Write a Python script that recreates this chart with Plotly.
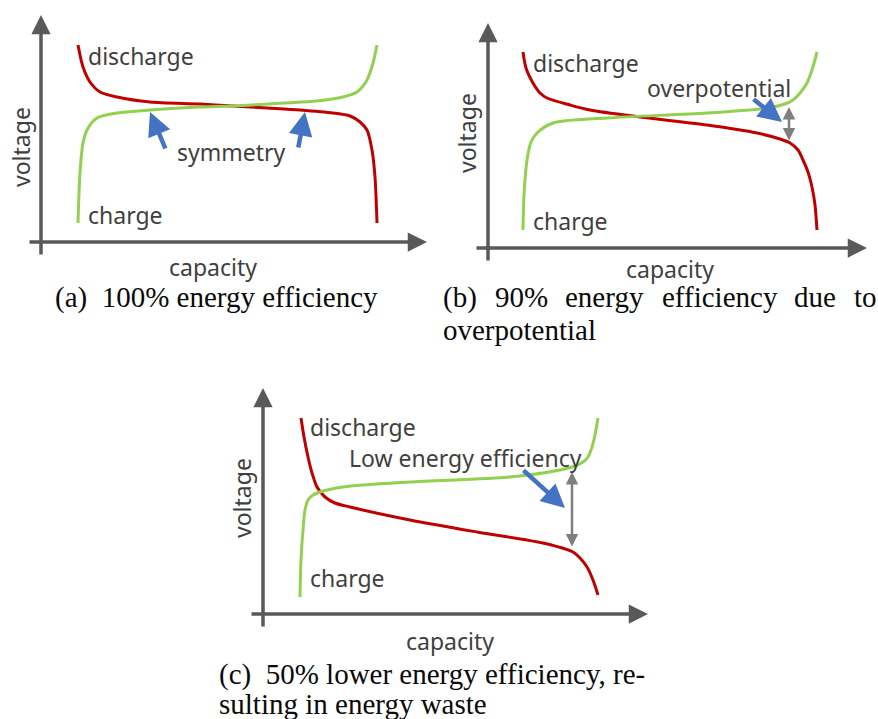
import plotly.graph_objects as go

W, H = 878, 719

# ---- curve data (capacity, voltage in arbitrary units) ----
# (a) ideal cell: charge and discharge mirror each other
a_dis_cap = [37, 42, 49, 59, 76, 109, 159, 192, 226, 259, 292, 309, 319, 326, 331, 334, 336]
a_dis_volt = [197, 175, 160, 150, 145, 140, 138, 136, 134, 132, 129, 126, 120, 112, 92, 65, 19]
a_chg_cap = [37, 39, 42, 46, 56, 76, 109, 159, 192, 242, 276, 302, 316, 326, 332, 336]
a_chg_volt = [19, 69, 99, 112, 124, 129, 132, 135, 136, 139, 141, 145, 150, 162, 179, 197]

# (b) overpotential opens a gap between the curves
b_dis_cap = [35, 38, 45, 52, 59, 82, 102, 152, 219, 269, 292, 302, 310, 315, 320, 324, 327, 329]
b_dis_volt = [196, 180, 165, 155, 150, 143, 138, 131, 123, 115, 109, 105, 98, 88, 76, 61, 43, 18]
b_chg_cap = [35, 36, 39, 43, 49, 65, 119, 219, 279, 297, 305, 312, 319, 324, 329]
b_chg_volt = [18, 53, 88, 106, 115, 125, 130, 135, 140, 144, 148, 155, 165, 178, 196]

# (c) large gap -> low energy efficiency
c_dis_cap = [38, 41, 45, 49, 54, 62, 72, 87, 147, 214, 280, 310, 317, 324, 330, 335]
c_dis_volt = [196, 177, 157, 141, 127, 117, 111, 107, 94, 82, 71, 62, 56, 47, 34, 19]
c_chg_cap = [37, 38, 40, 42, 45, 50, 57, 80, 147, 247, 297, 312, 320, 325, 329, 332, 335]
c_chg_volt = [17, 54, 84, 104, 114, 119, 122, 127, 132, 137, 144, 148, 152, 157, 167, 179, 196]

# gap markers: (capacity, voltage top, voltage bottom)
b_gap = (301, 141, 106)
c_gap = (309, 142, 66)

RED = "#C00000"
GREEN = "#92D050"
BLUE = "#4472C4"
GREY = "#7F7F7F"
AXIS = "#595959"
LABEL = "#3F3F3F"
CAPTION = "#0A0A0A"
SANS = "Noto Sans"
SERIF = "Liberation Serif, Times New Roman, serif"

# panel geometry: origin in pixels and axis extents in data units
panels = {
    "a": dict(origin=(41, 242), xr=(-14, 387), yr=(-15, 228)),
    "b": dict(origin=(488, 248), xr=(-14, 380), yr=(-15, 226)),
    "c": dict(origin=(263, 614), xr=(-14, 386), yr=(-15, 227)),
}


def px(x):
    return x / W


def py(y):
    return 1 - y / H


fig = go.Figure()
layout = {}
annotations = []

for i, (key, p) in enumerate(panels.items()):
    n = "" if i == 0 else str(i + 1)
    ox, oy = p["origin"]
    x0, x1 = p["xr"]
    y0, y1 = p["yr"]
    layout["xaxis" + n] = dict(domain=[px(ox + x0), px(ox + x1)], range=[x0, x1],
                               visible=False, fixedrange=True, anchor="y" + n)
    layout["yaxis" + n] = dict(domain=[py(oy - y0), py(oy - y1)], range=[y0, y1],
                               visible=False, fixedrange=True, anchor="x" + n)
    xref, yref = "x" + n, "y" + n
    # axis arrows
    annotations.append(dict(x=x1 - 1, y=0, ax=x0 + 1, ay=0, xref=xref, yref=yref,
                            axref=xref, ayref=yref, showarrow=True, arrowhead=2,
                            arrowsize=1.1, arrowwidth=3.5, arrowcolor=AXIS, text=""))
    annotations.append(dict(x=0, y=y1 - 1, ax=0, ay=y0 + 1, xref=xref, yref=yref,
                            axref=xref, ayref=yref, showarrow=True, arrowhead=2,
                            arrowsize=1.1, arrowwidth=3.5, arrowcolor=AXIS, text=""))

curves = [
    ("a", a_dis_cap, a_dis_volt, RED), ("a", a_chg_cap, a_chg_volt, GREEN),
    ("b", b_dis_cap, b_dis_volt, RED), ("b", b_chg_cap, b_chg_volt, GREEN),
    ("c", c_dis_cap, c_dis_volt, RED), ("c", c_chg_cap, c_chg_volt, GREEN),
]
refs = {"a": ("x", "y"), "b": ("x2", "y2"), "c": ("x3", "y3")}
for key, xs, ys, col in curves:
    xa, ya = refs[key]
    fig.add_trace(go.Scatter(x=xs, y=ys, mode="lines", xaxis=xa, yaxis=ya,
                             line=dict(color=col, width=3, shape="spline", smoothing=0.8),
                             hoverinfo="skip", showlegend=False))


def pointer(key, tail, tip):
    xa, ya = refs[key]
    annotations.append(dict(x=tip[0], y=tip[1], ax=tail[0], ay=tail[1], xref=xa, yref=ya,
                            axref=xa, ayref=ya, showarrow=True, arrowhead=2, arrowsize=1.05,
                            arrowwidth=4.5, arrowcolor=BLUE, text=""))


def gap(key, g):
    xa, ya = refs[key]
    annotations.append(dict(x=g[0], y=g[1], ax=g[0], ay=g[2], xref=xa, yref=ya,
                            axref=xa, ayref=ya, showarrow=True, arrowhead=2, arrowsize=1,
                            startarrowhead=2, startarrowsize=1, arrowside="end+start",
                            arrowwidth=2.5, arrowcolor=GREY, text=""))


pointer("a", (125, 92), (109, 130))
pointer("a", (257, 93), (264, 130))
pointer("b", (264, 150), (294, 126))
gap("b", b_gap)
pointer("c", (259, 145), (302, 106))
gap("c", c_gap)


def label(text, x, y, anchor="left", size=23, angle=0, color=LABEL, font=SANS):
    annotations.append(dict(text=text, x=px(x), y=py(y), xref="paper", yref="paper",
                            xanchor=anchor, yanchor="middle", showarrow=False,
                            textangle=angle, font=dict(family=font, size=size, color=color)))


# panel (a) texts
label("discharge", 86, 56)
label("charge", 86, 215)
label("symmetry", 231, 152, "center")
label("capacity", 213, 267, "center")
label("voltage", 21, 147, "center", angle=-90)
# panel (b) texts
label("discharge", 531, 63)
label("charge", 531, 221)
label("overpotential", 719, 88, "center")
label("capacity", 670, 269, "center")
label("voltage", 467, 133, "center", angle=-90)
# panel (c) texts
label("discharge", 308, 427)
label("charge", 308, 578)
label("Low energy efficiency", 465, 458, "center")
label("capacity", 450, 641, "center")
label("voltage", 242, 498, "center", angle=-90)

# captions
cap_size = 29
label("(a)&#160;&#160;100% energy efficiency", 53, 297, size=cap_size, color=CAPTION, font=SERIF)
for word, x in [("(b)", 441), ("90%", 493), ("energy", 563), ("efficiency", 660),
                ("due", 792), ("to", 852)]:
    label(word, x, 297, size=cap_size, color=CAPTION, font=SERIF)
label("overpotential", 441, 330, size=cap_size, color=CAPTION, font=SERIF)
label("(c)&#160;&#160;50% lower energy efficiency, re-", 217, 674, size=cap_size,
      color=CAPTION, font=SERIF)
label("sulting in energy waste", 217, 704, size=cap_size, color=CAPTION, font=SERIF)

layout.update(width=W, height=H, margin=dict(l=0, r=0, t=0, b=0),
              paper_bgcolor="white", plot_bgcolor="white", showlegend=False,
              annotations=annotations)
fig.update_layout(**layout)
fig.write_html("out.html", config={"displayModeBar": False})
